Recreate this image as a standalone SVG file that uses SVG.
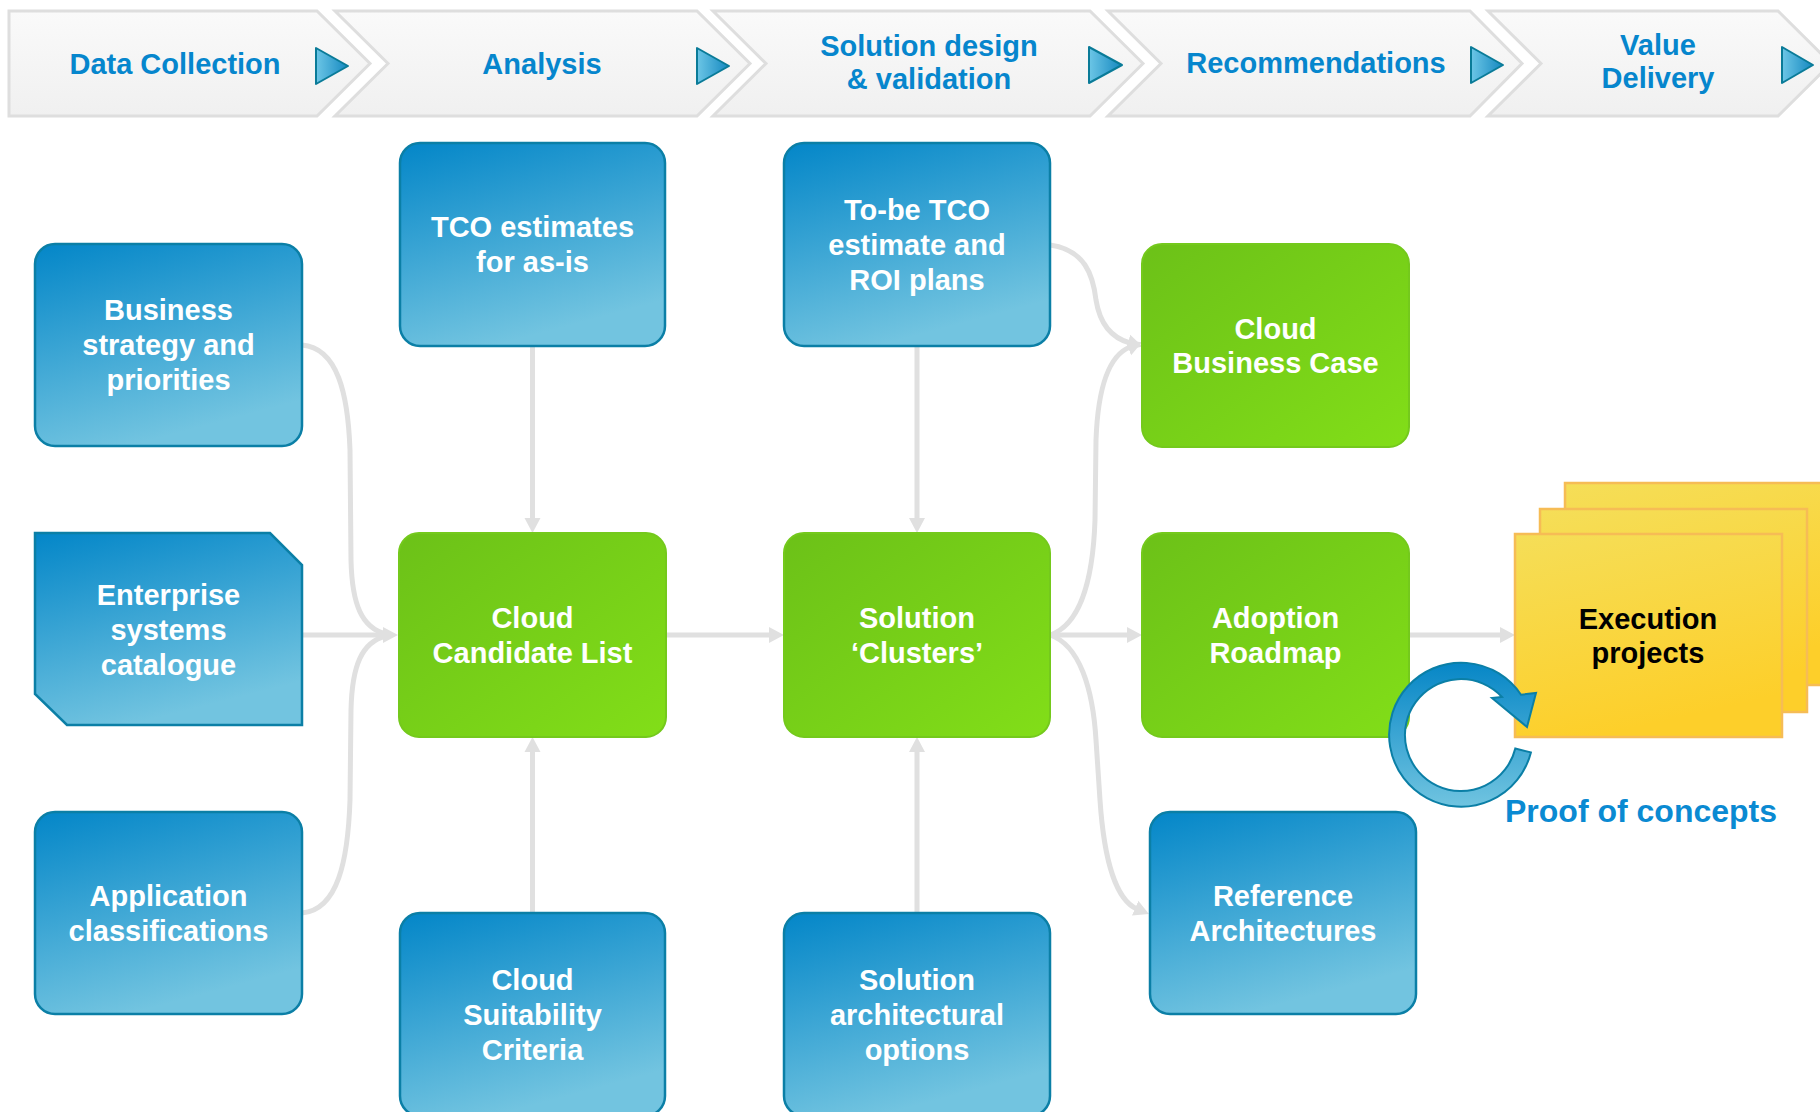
<svg xmlns="http://www.w3.org/2000/svg" width="1820" height="1112" viewBox="0 0 1820 1112">
  <defs>
    <linearGradient id="gBlue" x1="0" y1="0" x2="0.35" y2="1">
      <stop offset="0" stop-color="#0386c8"/>
      <stop offset="1" stop-color="#72c4e0"/>
    </linearGradient>
    <linearGradient id="gGreen" x1="0" y1="0" x2="1" y2="1">
      <stop offset="0" stop-color="#6cc118"/>
      <stop offset="1" stop-color="#82de18"/>
    </linearGradient>
    <linearGradient id="gYellow" x1="0" y1="0" x2="0.3" y2="1">
      <stop offset="0" stop-color="#f5de58"/>
      <stop offset="1" stop-color="#fdcf2a"/>
    </linearGradient>
    <linearGradient id="gHead" x1="0" y1="0" x2="0" y2="1">
      <stop offset="0" stop-color="#fafafa"/>
      <stop offset="1" stop-color="#f0f0f0"/>
    </linearGradient>
    <linearGradient id="gTri" x1="0" y1="0" x2="1" y2="0">
      <stop offset="0" stop-color="#6cc6e6"/>
      <stop offset="1" stop-color="#1588c0"/>
    </linearGradient>
    <linearGradient id="gRing" x1="0" y1="0" x2="0" y2="1">
      <stop offset="0" stop-color="#0686c6"/>
      <stop offset="1" stop-color="#70c4e0"/>
    </linearGradient>
    <marker id="arr" viewBox="0 -9 16 18" refX="2" refY="0" markerWidth="16" markerHeight="18" markerUnits="userSpaceOnUse" orient="auto">
      <path d="M0,-8 L15,0 L0,8 Z" fill="#e0e0e0"/>
    </marker>
    <style>
      .chev { fill: url(#gHead); stroke: #dedede; stroke-width: 3; }
      .tri { fill: url(#gTri); stroke: #0a7b98; stroke-width: 2; stroke-linejoin: round; }
      .htxt { font-family: "Liberation Sans", Arial, sans-serif; font-weight: bold; font-size: 29px; fill: #0686cd; text-anchor: middle; }
      .blue { fill: url(#gBlue); stroke: #0b7fa6; stroke-width: 2.5; }
      .green { fill: url(#gGreen); stroke: #74c91c; stroke-width: 2; }
      .yel { fill: url(#gYellow); stroke: #f6bc55; stroke-width: 2.5; }
      .ntxt { font-family: "Liberation Sans", Arial, sans-serif; font-weight: bold; font-size: 29px; fill: #ffffff; text-anchor: middle; }
      .conn { fill: none; stroke: #e0e0e0; stroke-width: 5; }
      .ring { fill: url(#gRing); stroke: #0b7fa6; stroke-width: 2; stroke-linejoin: miter; }
    </style>
  </defs>

  <rect width="1820" height="1112" fill="#ffffff"/>

  <!-- Header chevrons -->
  <g id="stage-data-collection">
    <polygon class="chev" points="9,11 317,11 370,63.5 317,116 9,116"/>
    <polygon class="tri" points="316,48 316,84 348,66"/>
    <text class="htxt" x="175" y="74">Data Collection</text>
  </g>
  <g id="stage-analysis">
    <polygon class="chev" points="335,11 697,11 750,63.5 697,116 335,116 388,63.5"/>
    <polygon class="tri" points="697,48 697,84 729,66"/>
    <text class="htxt" x="542" y="74">Analysis</text>
  </g>
  <g id="stage-solution-design">
    <polygon class="chev" points="713,11 1090,11 1143,63.5 1090,116 713,116 766,63.5"/>
    <polygon class="tri" points="1089,47 1089,83 1122,65"/>
    <text class="htxt" x="929" y="56">Solution design</text>
    <text class="htxt" x="929" y="89">&amp; validation</text>
  </g>
  <g id="stage-recommendations">
    <polygon class="chev" points="1108,11 1470,11 1522,63.5 1470,116 1108,116 1161,63.5"/>
    <polygon class="tri" points="1471,47 1471,83 1503,65"/>
    <text class="htxt" x="1316" y="73">Recommendations</text>
  </g>
  <g id="stage-value-delivery">
    <polygon class="chev" points="1488,11 1778,11 1831,63.5 1778,116 1488,116 1541,63.5"/>
    <polygon class="tri" points="1782,47 1782,83 1813,65"/>
    <text class="htxt" x="1658" y="55">Value</text>
    <text class="htxt" x="1658" y="88">Delivery</text>
  </g>

  <!-- Connectors -->
  <g id="connectors">
    <path class="conn" d="M532.5,346 L532.5,520" marker-end="url(#arr)"/>
    <path class="conn" d="M532.5,913 L532.5,750" marker-end="url(#arr)"/>
    <path class="conn" d="M917,346 L917,520" marker-end="url(#arr)"/>
    <path class="conn" d="M917,913 L917,750" marker-end="url(#arr)"/>
    <path class="conn" d="M302,345 C338,348 348,395 350,450 L351,560 C352,605 362,628 386,634"/>
    <path class="conn" d="M302,913 C338,910 348,860 350,800 L351,710 C352,665 362,642 386,636"/>
    <path class="conn" d="M302,635 L385,635" marker-end="url(#arr)"/>
    <path class="conn" d="M667,635 L771,635" marker-end="url(#arr)"/>
    <path class="conn" d="M1050,245 C1085,250 1093,275 1096,300 C1100,325 1112,338 1130,343" marker-end="url(#arr)"/>
    <path class="conn" d="M1050,635 C1080,625 1093,580 1095,520 L1096,440 C1098,385 1110,355 1130,347" marker-end="url(#arr)"/>
    <path class="conn" d="M1050,635 L1129,635" marker-end="url(#arr)"/>
    <path class="conn" d="M1050,635 C1080,645 1093,690 1096,740 L1100,800 C1104,860 1116,900 1137,909" marker-end="url(#arr)"/>
    <path class="conn" d="M1409,635 L1502,635" marker-end="url(#arr)"/>
  </g>

  <!-- Nodes -->
  <g id="node-business-strategy">
    <rect class="blue" x="35" y="244" width="267" height="202" rx="20"/>
    <text class="ntxt"><tspan x="168.5" y="320">Business</tspan><tspan x="168.5" y="355">strategy and</tspan><tspan x="168.5" y="390">priorities</tspan></text>
  </g>
  <g id="node-enterprise-systems">
    <path class="blue" d="M35,533 L270,533 L302,565 L302,725 L67,725 L35,694 Z"/>
    <text class="ntxt"><tspan x="168.5" y="605">Enterprise</tspan><tspan x="168.5" y="640">systems</tspan><tspan x="168.5" y="675">catalogue</tspan></text>
  </g>
  <g id="node-application-classifications">
    <rect class="blue" x="35" y="812" width="267" height="202" rx="20"/>
    <text class="ntxt"><tspan x="168.5" y="906">Application</tspan><tspan x="168.5" y="941">classifications</tspan></text>
  </g>
  <g id="node-tco-as-is">
    <rect class="blue" x="400" y="143" width="265" height="203" rx="20"/>
    <text class="ntxt"><tspan x="532.5" y="237">TCO estimates</tspan><tspan x="532.5" y="272">for as-is</tspan></text>
  </g>
  <g id="node-cloud-candidate-list">
    <rect class="green" x="399" y="533" width="267" height="204" rx="20"/>
    <text class="ntxt"><tspan x="532.5" y="628">Cloud</tspan><tspan x="532.5" y="663">Candidate List</tspan></text>
  </g>
  <g id="node-cloud-suitability">
    <rect class="blue" x="400" y="913" width="265" height="203" rx="20"/>
    <text class="ntxt"><tspan x="532.5" y="990">Cloud</tspan><tspan x="532.5" y="1025">Suitability</tspan><tspan x="532.5" y="1060">Criteria</tspan></text>
  </g>
  <g id="node-to-be-tco">
    <rect class="blue" x="784" y="143" width="266" height="203" rx="20"/>
    <text class="ntxt"><tspan x="917" y="220">To-be TCO</tspan><tspan x="917" y="255">estimate and</tspan><tspan x="917" y="290">ROI plans</tspan></text>
  </g>
  <g id="node-solution-clusters">
    <rect class="green" x="784" y="533" width="266" height="204" rx="20"/>
    <text class="ntxt"><tspan x="917" y="628">Solution</tspan><tspan x="917" y="663">‘Clusters’</tspan></text>
  </g>
  <g id="node-solution-options">
    <rect class="blue" x="784" y="913" width="266" height="203" rx="20"/>
    <text class="ntxt"><tspan x="917" y="990">Solution</tspan><tspan x="917" y="1025">architectural</tspan><tspan x="917" y="1060">options</tspan></text>
  </g>
  <g id="node-cloud-business-case">
    <rect class="green" x="1142" y="244" width="267" height="203" rx="20"/>
    <text class="ntxt"><tspan x="1275.5" y="339">Cloud</tspan><tspan x="1275.5" y="373">Business Case</tspan></text>
  </g>
  <g id="node-adoption-roadmap">
    <rect class="green" x="1142" y="533" width="267" height="204" rx="20"/>
    <text class="ntxt"><tspan x="1275.5" y="628">Adoption</tspan><tspan x="1275.5" y="663">Roadmap</tspan></text>
  </g>
  <g id="node-reference-architectures">
    <rect class="blue" x="1150" y="812" width="266" height="202" rx="20"/>
    <text class="ntxt"><tspan x="1283" y="906">Reference</tspan><tspan x="1283" y="941">Architectures</tspan></text>
  </g>
  <g id="node-execution-projects">
    <rect class="yel" x="1565" y="483" width="267" height="202"/>
    <rect class="yel" x="1540" y="509" width="267" height="203"/>
    <rect class="yel" x="1515" y="534" width="267" height="203"/>
    <text class="ntxt" style="fill:#000000"><tspan x="1648" y="629">Execution</tspan><tspan x="1648" y="663">projects</tspan></text>
  </g>
  <g id="node-proof-of-concepts">
    <path class="ring" d="M1530.9,752.4 A72,72 0 1,1 1521,694.7 L1536,693 L1527,727 L1492,698 L1502,697 A56,56 0 1,0 1515.3,748.5 Z"/>
    <text x="1505" y="822" style="font-family:'Liberation Sans', Arial, sans-serif; font-weight:bold; font-size:32px; fill:#0a8ad2">Proof of concepts</text>
  </g>
</svg>
